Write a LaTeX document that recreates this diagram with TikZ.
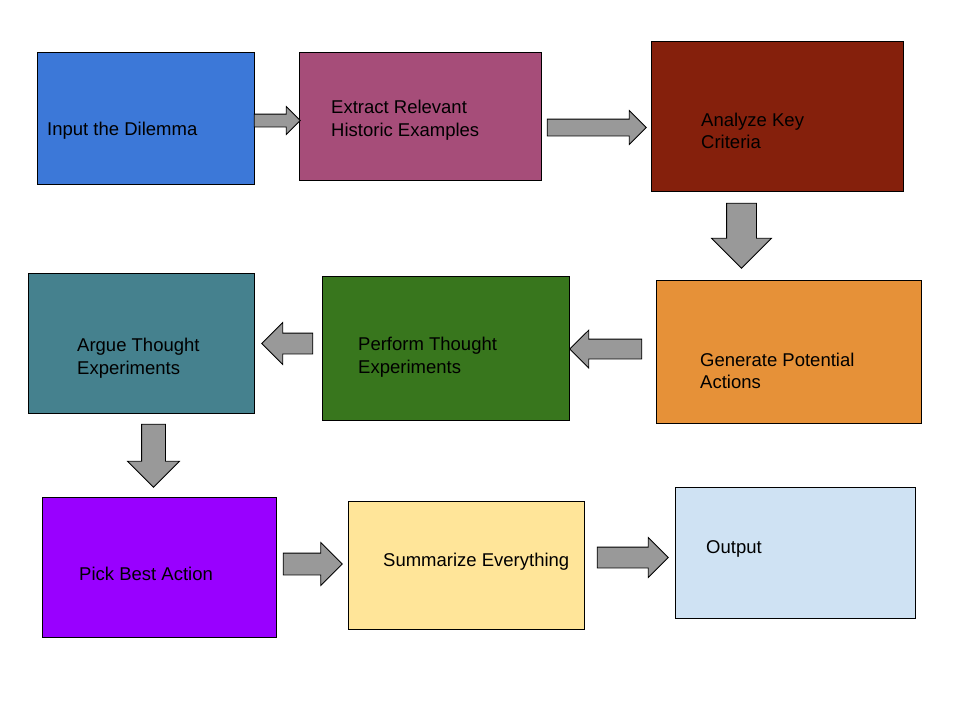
\documentclass[tikz,border=0pt]{standalone}
\usepackage{fontspec}
\setmainfont{Liberation Sans}
\usepackage{xcolor}
\usetikzlibrary{shapes.arrows}
\definecolor{stepblue}{HTML}{3C78D8}
\definecolor{stepplum}{HTML}{A64D79}
\definecolor{steprust}{HTML}{85200C}
\definecolor{steporange}{HTML}{E69138}
\definecolor{stepgreen}{HTML}{38761D}
\definecolor{stepteal}{HTML}{45818E}
\definecolor{steppurple}{HTML}{9900FF}
\definecolor{stepyellow}{HTML}{FFE599}
\definecolor{steplight}{HTML}{CFE2F3}
\definecolor{arrowgray}{HTML}{999999}
\tikzset{
    stagebox/.style={rectangle, draw=black, line width=0.8pt, anchor=north west, inner sep=0pt},
    stagetext/.style={anchor=west, align=left, inner sep=0pt, font=\fontsize{18.5}{22.5}\selectfont, text=black},
    blockarrow/.style={single arrow, draw=black, line width=0.8pt, fill=arrowgray, inner sep=#1},
}
\begin{document}
\begin{tikzpicture}[x=1pt, y=-1pt]
    \useasboundingbox (0,0) rectangle (960,720);
    % stage boxes
    \node[stagebox, fill=stepblue, minimum width=217pt, minimum height=132pt] (input) at (37,52) {};
    \node[stagebox, fill=stepplum, minimum width=242pt, minimum height=128pt] (extract) at (299,52) {};
    \node[stagebox, fill=steprust, minimum width=252pt, minimum height=150pt] (analyze) at (651,41) {};
    \node[stagebox, fill=steporange, minimum width=265pt, minimum height=143pt] (generate) at (656,280) {};
    \node[stagebox, fill=stepgreen, minimum width=247pt, minimum height=144pt] (perform) at (322,276) {};
    \node[stagebox, fill=stepteal, minimum width=226pt, minimum height=140pt] (argue) at (28,273) {};
    \node[stagebox, fill=steppurple, minimum width=234pt, minimum height=140pt] (pick) at (42,497) {};
    \node[stagebox, fill=stepyellow, minimum width=236pt, minimum height=128pt] (summarize) at (348,501) {};
    \node[stagebox, fill=steplight, minimum width=240pt, minimum height=131pt] (output) at (675,487) {};
    % labels
    \node[stagetext] (inputtext) at (47,131) {Input the Dilemma};
    \node[stagetext] (extracttext) at (331,120) {Extract Relevant\\Historic Examples};
    \node[stagetext] (analyzetext) at (701,131) {Analyze Key\\Criteria};
    \node[stagetext] (generatetext) at (700,371) {Generate Potential\\Actions};
    \node[stagetext] (performtext) at (358,357) {Perform Thought\\Experiments};
    \node[stagetext] (arguetext) at (77,358) {Argue Thought\\Experiments};
    \node[stagetext] (picktext) at (79,574) {Pick Best Action};
    \node[stagetext] (summarizetext) at (383,562) {Summarize Everything};
    \node[stagetext] (outputtext) at (706,549) {Output};
    % block arrows
    \node[blockarrow=6pt, minimum height=46pt, minimum width=27pt, single arrow head extend=7.5pt] (arrowa) at (274,120.5) {};
    \node[blockarrow=8pt, minimum height=99pt, minimum width=33pt, single arrow head extend=8.5pt] (arrowb) at (592.5,127.5) {};
    \node[blockarrow=14.5pt, minimum height=65pt, minimum width=59pt, single arrow head extend=15pt, shape border rotate=270] (arrowc) at (741.5,228.25) {};
    \node[blockarrow=9.5pt, minimum height=72pt, minimum width=37pt, single arrow head extend=9pt, shape border rotate=180] (arrowd) at (610.75,349) {};
    \node[blockarrow=10pt, minimum height=51pt, minimum width=41pt, single arrow head extend=10.5pt, shape border rotate=180] (arrowe) at (292.5,343.5) {};
    \node[blockarrow=11.5pt, minimum height=63pt, minimum width=51pt, single arrow head extend=14pt, shape border rotate=270] (arrowf) at (153.5,449.75) {};
    \node[blockarrow=10.5pt, minimum height=59pt, minimum width=42pt, single arrow head extend=10.5pt] (arrowg) at (307.25,564) {};
    \node[blockarrow=10pt, minimum height=71pt, minimum width=39pt, single arrow head extend=9.5pt] (arrowh) at (627.5,557.5) {};
\end{tikzpicture}
\end{document}
